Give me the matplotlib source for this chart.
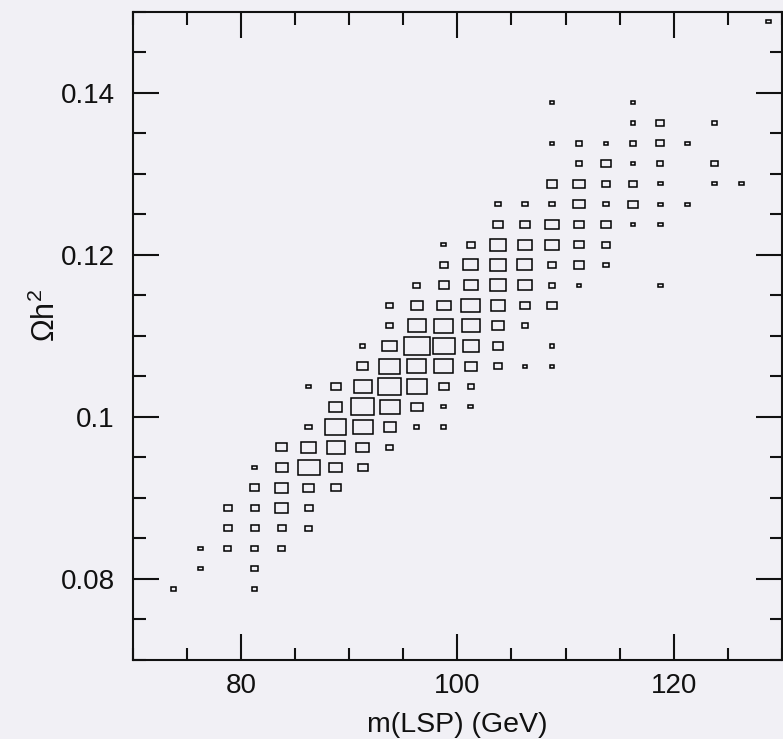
import numpy as np
import matplotlib
matplotlib.use("Agg")
import matplotlib.pyplot as plt
from matplotlib.patches import Rectangle
from matplotlib.ticker import MultipleLocator

# bin centres (LSP mass in GeV, relic density) and number of models per bin
m_lsp = [
    73.75, 81.25,                                   # 0.07875
    76.25, 81.25,                                   # 0.08125
    76.25, 78.75, 81.25, 83.75,                     # 0.08375
    78.75, 81.25, 83.75, 86.25,                     # 0.08625
    78.75, 81.25, 83.75, 86.25,                     # 0.08875
    81.25, 83.75, 86.25, 88.75,                     # 0.09125
    81.25, 83.75, 86.25, 88.75, 91.25,              # 0.09375
    83.75, 86.25, 88.75, 91.25, 93.75,              # 0.09625
    86.25, 88.75, 91.25, 93.75, 96.25, 98.75,       # 0.09875
    88.75, 91.25, 93.75, 96.25, 98.75, 101.25,      # 0.10125
    86.25, 88.75, 91.25, 93.75, 96.25, 98.75, 101.25,            # 0.10375
    91.25, 93.75, 96.25, 98.75, 101.25, 103.75, 106.25, 108.75,  # 0.10625
    91.25, 93.75, 96.25, 98.75, 101.25, 103.75, 108.75,          # 0.10875
    93.75, 96.25, 98.75, 101.25, 103.75, 106.25,                 # 0.11125
    93.75, 96.25, 98.75, 101.25, 103.75, 106.25, 108.75,         # 0.11375
    96.25, 98.75, 101.25, 103.75, 106.25, 108.75, 111.25, 118.75,  # 0.11625
    98.75, 101.25, 103.75, 106.25, 108.75, 111.25, 113.75,       # 0.11875
    98.75, 101.25, 103.75, 106.25, 108.75, 111.25, 113.75,       # 0.12125
    103.75, 106.25, 108.75, 111.25, 113.75, 116.25, 118.75,      # 0.12375
    103.75, 106.25, 108.75, 111.25, 113.75, 116.25, 118.75, 121.25,  # 0.12625
    108.75, 111.25, 113.75, 116.25, 118.75, 123.75, 126.25,      # 0.12875
    111.25, 113.75, 116.25, 118.75, 123.75,                      # 0.13125
    108.75, 111.25, 113.75, 116.25, 118.75, 121.25,              # 0.13375
    116.25, 118.75, 123.75,                                      # 0.13625
    108.75, 116.25,                                              # 0.13875
    128.75,                                                      # 0.14875
]
omega_h2 = (
    [0.07875] * 2 + [0.08125] * 2 + [0.08375] * 4 + [0.08625] * 4
    + [0.08875] * 4 + [0.09125] * 4 + [0.09375] * 5 + [0.09625] * 5
    + [0.09875] * 6 + [0.10125] * 6 + [0.10375] * 7 + [0.10625] * 8
    + [0.10875] * 7 + [0.11125] * 6 + [0.11375] * 7 + [0.11625] * 8
    + [0.11875] * 7 + [0.12125] * 7 + [0.12375] * 7 + [0.12625] * 8
    + [0.12875] * 7 + [0.13125] * 5 + [0.13375] * 6 + [0.13625] * 3
    + [0.13875] * 2 + [0.14875] * 1
)
n_models = [
    1, 1,
    1, 2,
    1, 2, 2, 2,
    3, 3, 3, 2,
    3, 3, 8, 3,
    4, 8, 5, 4,
    1, 6, 21, 7, 4,
    5, 10, 14, 7, 2,
    2, 20, 18, 7, 1, 1,
    8, 23, 17, 6, 1, 1,
    1, 4, 15, 24, 18, 4, 2,
    5, 19, 16, 16, 7, 3, 1, 1,
    1, 10, 29, 22, 11, 5, 1,
    2, 15, 16, 14, 7, 2,
    2, 7, 8, 16, 9, 5, 4,
    2, 5, 8, 12, 8, 2, 1, 1,
    3, 10, 11, 10, 3, 5, 2,
    1, 3, 12, 8, 8, 4, 3,
    5, 5, 8, 4, 4, 1, 1,
    2, 2, 2, 6, 2, 4, 1, 1,
    5, 6, 3, 3, 1, 1, 1,
    2, 5, 1, 2, 2,
    1, 2, 1, 2, 3, 1,
    1, 3, 1,
    1, 1,
    1,
]

bin_x = 2.5
bin_y = 0.0025

bg = "#f1f0f5"
ink = "#111111"
plt.rcParams["font.family"] = ["Liberation Sans", "DejaVu Sans"]
plt.rcParams["mathtext.fontset"] = "custom"
plt.rcParams["mathtext.rm"] = "Liberation Sans"
plt.rcParams["mathtext.it"] = "Liberation Sans"

fig = plt.figure(figsize=(7.83, 7.39), dpi=100, facecolor=bg)
ax = fig.add_axes([0.1699, 0.1069, 0.8285, 0.8773], facecolor=bg)
ax.set_xlim(70, 130)
ax.set_ylim(0.07, 0.15)

# box side ~ sqrt(content); outer edge fills the bin for the maximum
lw = 1.1
lw_px = lw * 100 / 72.0
px_x = (130 - 70) / (0.8285 * 783)
px_y = (0.15 - 0.07) / (0.8773 * 739)
cmax = max(n_models)
for x, y, c in zip(m_lsp, omega_h2, n_models):
    f = 0.06 + 0.94 * np.sqrt(c / cmax)
    w = bin_x * f - lw_px * px_x
    h = bin_y * f - lw_px * px_y
    ax.add_patch(Rectangle((x - w / 2, y - h / 2), w, h, fill=False,
                           edgecolor="black", linewidth=lw))

ax.xaxis.set_major_locator(MultipleLocator(20))
ax.xaxis.set_minor_locator(MultipleLocator(5))
ax.yaxis.set_minor_locator(MultipleLocator(0.005))
ax.set_yticks([0.08, 0.1, 0.12, 0.14])
ax.set_yticklabels(["0.08", "0.1", "0.12", "0.14"])

ax.tick_params(which="both", direction="in", top=True, right=True,
               width=1.5, color=ink, labelsize=20, labelcolor=ink)
ax.tick_params(which="major", length=18.5)
ax.tick_params(which="minor", length=9)
ax.tick_params(axis="x", which="major", pad=9.5)
ax.tick_params(axis="y", which="major", pad=13)

for s in ax.spines.values():
    s.set_linewidth(1.5)
    s.set_color(ink)

ax.set_xlabel("m(LSP) (GeV)", fontsize=20.5, color=ink)
ax.xaxis.label.set_va("center")
ax.xaxis.set_label_coords(0.5, -0.100)
ax.set_ylabel(r"$\mathrm{\Omega h^{2}}$", fontsize=22, color=ink)
ax.yaxis.label.set_va("center")
ax.yaxis.set_label_coords(-0.134, 0.532)

fig.savefig("out.png", dpi=100, facecolor=bg)
